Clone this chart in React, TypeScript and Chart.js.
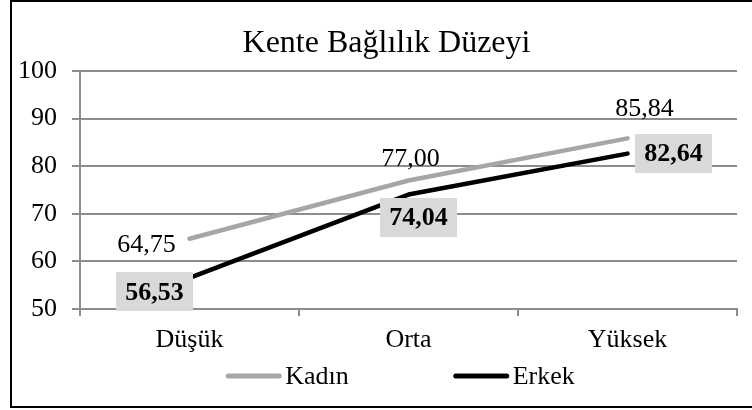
import React, { useEffect, useRef } from 'react';
import { Chart, registerables } from 'chart.js';

Chart.register(...registerables);

const chartTitle = 'Kente Bağlılık Düzeyi';
const categories = ['Düşük', 'Orta', 'Yüksek'];
const seriesNames = ['Kadın', 'Erkek'];
const kadinValues = [64.75, 77.0, 85.84];
const erkekValues = [56.53, 74.04, 82.64];
const yMin = 50;
const yMax = 100;
const yStep = 10;

const FONT = "'Liberation Serif', 'Times New Roman', serif";
const GRID = '#8c8c8c';
const GRAY_LINE = '#a6a6a6';
const BLACK_LINE = '#000000';
const LABEL_BOX = '#d9d9d9';

// label offsets relative to the point (px)
const kadinLabelOffsets = [[-43, 6], [2, -21], [17, -29]];
const erkekLabelOffsets = [[-35, 14], [10, 23], [46, 0]];

const fmt = (v: number) => v.toFixed(2).replace('.', ',');

const titlePlugin = {
  id: 'customTitle',
  afterDraw(chart: any) {
    const ctx = chart.ctx;
    ctx.save();
    ctx.font = `32px ${FONT}`;
    ctx.fillStyle = '#000';
    ctx.textAlign = 'center';
    ctx.textBaseline = 'alphabetic';
    ctx.fillText(chartTitle, 386.5, 52);
    ctx.restore();
  },
};

const labelPlugin = {
  id: 'valueLabels',
  afterDatasetsDraw(chart: any) {
    const ctx = chart.ctx;
    ctx.save();
    ctx.textAlign = 'center';
    ctx.textBaseline = 'middle';
    chart.data.datasets.forEach((ds: any, di: number) => {
      const meta = chart.getDatasetMeta(di);
      meta.data.forEach((pt: any, i: number) => {
        const v = ds.data[i];
        const text = fmt(v);
        if (di === 0) {
          const [dx, dy] = kadinLabelOffsets[i];
          ctx.font = `26px ${FONT}`;
          ctx.fillStyle = '#000';
          ctx.fillText(text, pt.x + dx, pt.y + dy);
        } else {
          const [dx, dy] = erkekLabelOffsets[i];
          ctx.font = `bold 26px ${FONT}`;
          const w = ctx.measureText(text).width + 18;
          const h = 39;
          const cx = pt.x + dx;
          const cy = pt.y + dy;
          ctx.fillStyle = LABEL_BOX;
          ctx.fillRect(Math.round(cx - w / 2), Math.round(cy - h / 2), Math.round(w), h);
          ctx.fillStyle = '#000';
          ctx.fillText(text, cx, cy + 1);
        }
      });
    });
    ctx.restore();
  },
};

const legendPlugin = {
  id: 'customLegend',
  afterDraw(chart: any) {
    const ctx = chart.ctx;
    const area = chart.chartArea;
    const y = 376;
    const lineLen = 55;
    const gap = 4;
    const itemGap = 105;
    ctx.save();
    ctx.font = `26px ${FONT}`;
    ctx.textBaseline = 'middle';
    ctx.textAlign = 'left';
    const colors = [GRAY_LINE, BLACK_LINE];
    const widths = seriesNames.map((n) => lineLen + gap + ctx.measureText(n).width);
    const total = widths[0] + itemGap + widths[1];
    let x = (area.left + area.right) / 2 - 8 - total / 2;
    seriesNames.forEach((name, i) => {
      ctx.strokeStyle = colors[i];
      ctx.lineWidth = 5;
      ctx.lineCap = 'round';
      ctx.beginPath();
      ctx.moveTo(x + 2, y);
      ctx.lineTo(x + lineLen - 2, y);
      ctx.stroke();
      ctx.fillStyle = '#000';
      ctx.fillText(name, x + lineLen + gap, y + 1);
      x += widths[i] + itemGap;
    });
    ctx.restore();
  },
};

const framePlugin = {
  id: 'frame',
  afterDraw(chart: any) {
    const ctx = chart.ctx;
    ctx.save();
    ctx.strokeStyle = '#000';
    ctx.lineWidth = 2;
    ctx.strokeRect(11, 1, 900, 406);
    ctx.restore();
  },
};

export default function App() {
  const ref = useRef<HTMLCanvasElement | null>(null);

  useEffect(() => {
    if (!ref.current) return;
    const chart = new Chart(ref.current, {
      type: 'line',
      data: {
        labels: categories,
        datasets: [
          {
            label: seriesNames[0],
            data: kadinValues,
            borderColor: GRAY_LINE,
            backgroundColor: GRAY_LINE,
            borderWidth: 4.5,
            pointRadius: 0,
            tension: 0,
            borderCapStyle: 'round',
            borderJoinStyle: 'round',
          },
          {
            label: seriesNames[1],
            data: erkekValues,
            borderColor: BLACK_LINE,
            backgroundColor: BLACK_LINE,
            borderWidth: 4.5,
            pointRadius: 0,
            tension: 0,
            borderCapStyle: 'round',
            borderJoinStyle: 'round',
          },
        ],
      },
      options: {
        responsive: false,
        animation: false,
        layout: { padding: { left: 12, right: 15, top: 71, bottom: 51 } },
        plugins: {
          legend: { display: false },
          tooltip: { enabled: false },
          title: { display: false },
        },
        scales: {
          x: {
            offset: true,
            grid: {
              display: true,
              drawOnChartArea: false,
              drawTicks: true,
              tickLength: 7,
              color: GRID,
              lineWidth: 2,
              offset: true,
            },
            border: { display: true, color: GRID, width: 2 },
            ticks: {
              color: '#000',
              font: { family: FONT, size: 26 },
              padding: 9,
              maxRotation: 0,
            },
            afterFit(scale: any) {
              scale.height = 50;
            },
          },
          y: {
            min: yMin,
            max: yMax,
            grid: {
              color: GRID,
              lineWidth: 2,
              tickLength: 8,
              drawTicks: true,
            },
            border: { display: true, color: GRID, width: 2 },
            ticks: {
              stepSize: yStep,
              color: '#000',
              font: { family: FONT, size: 26 },
              padding: 15,
            },
            afterFit(scale: any) {
              scale.width = 68;
            },
          },
        },
      },
      plugins: [labelPlugin, legendPlugin, titlePlugin, framePlugin],
    } as any);
    return () => chart.destroy();
  }, []);

  return (
    <div style={{ position: 'absolute', left: 0, top: 0, width: 752, height: 410, background: '#fff' }}>
      <canvas ref={ref} width={752} height={410} style={{ width: 752, height: 410, display: 'block' }} />
    </div>
  );
}
